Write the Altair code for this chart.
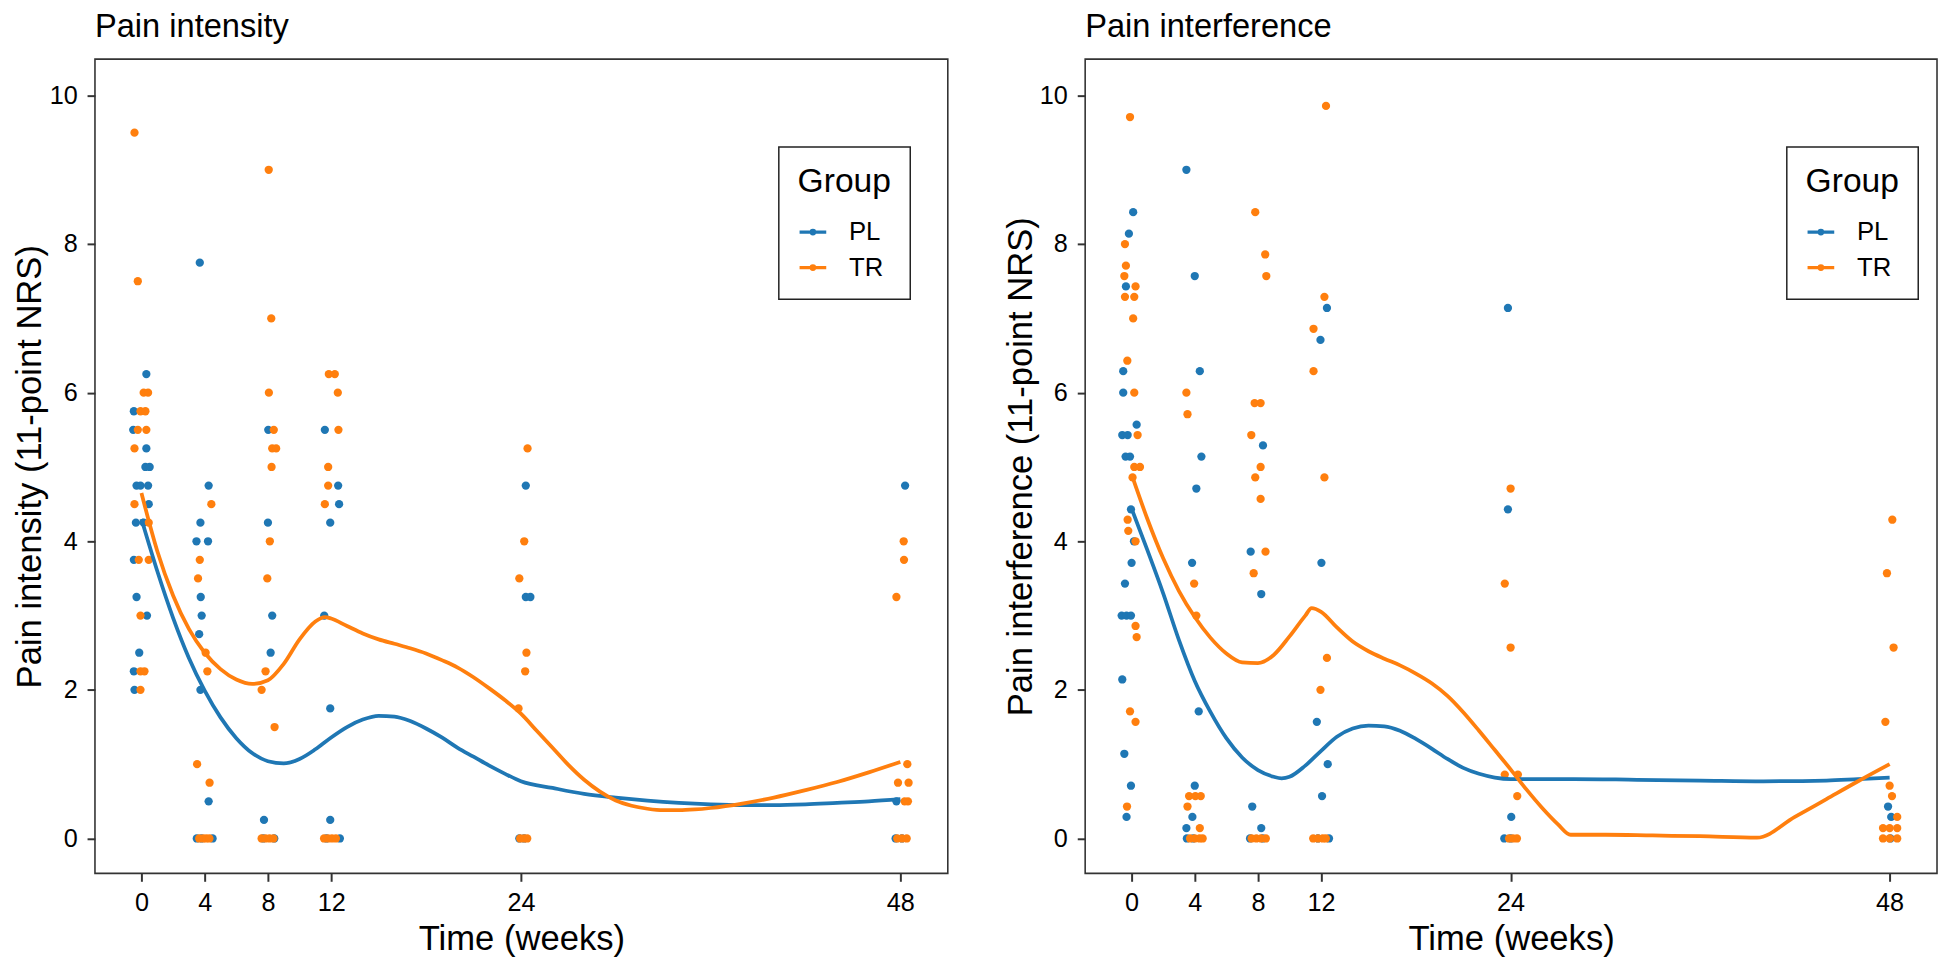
import altair as alt
import pandas as pd

# ---------------- data ----------------
weeks = [0, 4, 8, 12, 24, 48]
y_ticks = [0, 2, 4, 6, 8, 10]
groups = ["PL", "TR"]
group_colors = ["#1f77b4", "#ff7f0e"]

# Pain intensity - individual (jittered) observations
int_pl_x = [0.31, -0.48, -0.52, 0.31, 0.25, 0.52, -0.31, -0.06, 0.42, 0.46, -0.35, 0.14, -0.48, -0.31, 0.35, -0.14, -0.48, -0.44,
            3.69, 4.25, 3.73, 3.48, 4.21, 3.75, 3.81, 3.65, 3.73, 4.25, 3.5, 3.8, 4.5,
            8.02, 8.0, 8.27, 8.17, 7.75, 7.7, 8.4,
            11.6, 12.44, 12.5, 11.94, 11.56, 11.94, 11.94, 12.55, 11.7,
            24.31, 24.31, 24.6, 23.9, 24.2,
            48.3, 47.75, 47.7, 48.1]
int_pl_y = [6.25, 5.75, 5.5, 5.25, 5.0, 5.0, 4.75, 4.75, 4.75, 4.5, 4.25, 4.25, 3.75, 3.25, 3.0, 2.5, 2.25, 2.0,
            7.75, 4.75, 4.25, 4.0, 4.0, 3.25, 3.0, 2.75, 2.0, 0.5, 0, 0, 0,
            5.5, 4.25, 3.0, 2.5, 0.25, 0, 0,
            5.5, 4.75, 4.5, 4.25, 3.0, 1.75, 0.25, 0, 0,
            4.75, 3.25, 3.25, 0, 0,
            4.75, 0.5, 0, 0]
int_tr_x = [-0.44, -0.23, 0.14, 0.42, -0.06, 0.25, -0.23, 0.31, -0.44, -0.44, 0.46, -0.17, 0.46, -0.06, -0.06, 0.19, -0.06,
            4.42, 3.69, 3.58, 4.06, 4.17, 3.52, 4.31, 3.65, 3.9, 4.1, 4.3,
            8.05, 8.21, 8.06, 8.37, 8.27, 8.52, 8.23, 8.12, 7.96, 7.85, 7.6, 8.42, 7.6, 7.85, 8.1, 8.35,
            11.85, 12.23, 12.42, 12.46, 11.81, 11.81, 11.6, 11.55, 11.8, 12.05, 12.3,
            24.42, 24.21, 23.9, 24.35, 24.27, 23.85, 23.95, 24.2, 24.4,
            48.21, 48.23, 47.75, 48.44, 47.85, 48.52, 48.48, 48.27, 47.8, 48.1, 48.4]
int_tr_y = [9.5, 7.5, 6.0, 6.0, 5.75, 5.75, 5.5, 5.5, 5.25, 4.5, 4.25, 3.75, 3.75, 3.0, 2.25, 2.25, 2.0,
            4.5, 3.75, 3.5, 2.5, 2.25, 1.0, 0.75, 0, 0, 0, 0,
            9.0, 7.0, 6.0, 5.5, 5.25, 5.25, 5.0, 4.0, 3.5, 2.25, 2.0, 1.5, 0, 0, 0, 0,
            6.25, 6.25, 6.0, 5.5, 5.0, 4.75, 4.5, 0, 0, 0, 0,
            5.25, 4.0, 3.5, 2.5, 2.25, 1.75, 0, 0, 0,
            4.0, 3.75, 3.25, 1.0, 0.75, 0.75, 0.5, 0.5, 0, 0, 0]

# Pain interference - individual (jittered) observations
itf_pl_x = [0.1, -0.17, -0.36, -0.53, -0.53, 0.32, -0.59, -0.25, -0.38, -0.1, -0.04, 0.15, 0.0, -0.42, -0.63, -0.32, -0.04, -0.59, -0.46, -0.04, -0.32,
            3.47, 4.0, 4.32, 4.42, 4.1, 3.83, 4.25, 4.0, 3.85, 3.47, 3.5, 3.9,
            8.32, 7.54, 8.21, 7.64, 8.21, 7.5, 8.3,
            12.37, 11.96, 12.02, 11.73, 12.42, 12.06, 12.5, 11.8,
            23.83, 23.83, 24.04, 23.6, 24.0,
            47.9, 48.1, 48.05]
itf_pl_y = [8.43, 8.14, 7.43, 6.29, 6.0, 5.57, 5.43, 5.43, 5.14, 5.14, 4.43, 4.0, 3.71, 3.43, 3.0, 3.0, 3.0, 2.14, 1.14, 0.71, 0.29,
            9.0, 7.57, 6.29, 5.14, 4.71, 3.71, 1.71, 0.71, 0.29, 0.14, 0, 0,
            5.29, 3.86, 3.29, 0.43, 0.14, 0, 0,
            7.14, 6.71, 3.71, 1.57, 1.0, 0.57, 0, 0,
            7.14, 4.43, 0.29, 0, 0,
            0.43, 0.29, 0]
itf_tr_x = [-0.1, -0.42, -0.36, -0.46, 0.25, -0.42, 0.17, 0.1, -0.27, 0.17, 0.38, 0.17, 0.53, 0.06, -0.25, -0.21, 0.25, 0.25, 0.32, -0.1, 0.25, -0.29,
            3.47, 3.54, 3.96, 4.1, 3.64, 4.04, 4.38, 3.54, 4.32, 3.7, 4.0, 4.3, 4.5,
            7.83, 8.46, 8.53, 7.79, 8.17, 7.58, 8.17, 7.83, 8.17, 8.48, 7.73, 7.6, 7.9, 8.2, 8.5,
            12.31, 12.21, 11.52, 11.52, 12.21, 12.37, 11.96, 11.5, 11.8, 12.1, 12.3,
            24.0, 23.63, 24.0, 23.63, 24.46, 24.42, 23.9, 24.15, 24.4,
            48.17, 47.83, 48.25, 47.73, 48.0, 48.15, 48.48, 47.58, 48.0, 48.48, 47.58, 48.0, 48.48]
itf_tr_y = [9.71, 8.0, 7.71, 7.57, 7.43, 7.29, 7.29, 7.0, 6.43, 6.0, 5.43, 5.0, 5.0, 4.86, 4.29, 4.14, 4.0, 2.86, 2.71, 1.71, 1.57, 0.43,
            6.0, 5.71, 3.43, 3.0, 0.57, 0.57, 0.57, 0.43, 0.14, 0, 0, 0, 0,
            8.43, 7.86, 7.57, 5.86, 5.86, 5.43, 5.0, 4.86, 4.57, 3.86, 3.57, 0, 0, 0, 0,
            9.86, 7.29, 6.86, 6.29, 4.86, 2.43, 2.0, 0, 0, 0, 0,
            4.71, 3.43, 2.57, 0.86, 0.86, 0.57, 0, 0, 0,
            4.29, 3.57, 2.57, 1.57, 0.71, 0.57, 0.29, 0.14, 0.14, 0.14, 0, 0, 0]

# Smoothed curves
int_pl_cx = [0, 1, 2, 3, 4, 5, 6, 7, 8, 9, 10, 11, 12, 13, 14, 15, 16, 17, 18, 19, 20, 21, 22, 23, 24,
             26, 28, 30, 32, 34, 36, 38, 40, 42, 44, 46, 48]
int_pl_cy = [4.3, 3.6, 2.97, 2.43, 1.99, 1.63, 1.35, 1.15, 1.04, 1.01, 1.07, 1.2, 1.36, 1.5, 1.6, 1.65, 1.64, 1.58, 1.48, 1.36, 1.22, 1.1, 0.98, 0.87, 0.77,
             0.68, 0.6, 0.55, 0.51, 0.48, 0.46, 0.45, 0.45, 0.46, 0.48, 0.5, 0.53]
int_tr_cx = [0, 1, 2, 3, 4, 5, 6, 7, 8, 9, 10, 11, 11.6, 12, 13, 14, 15, 16, 17, 18, 19, 20, 21, 22, 23, 24,
             25, 26, 27, 28, 29, 30, 31, 32, 33, 34, 35, 36, 38, 40, 42, 44, 46, 48]
int_tr_cy = [4.65, 3.87, 3.27, 2.82, 2.5, 2.28, 2.14, 2.08, 2.13, 2.35, 2.68, 2.92, 2.98, 2.96, 2.86, 2.76, 2.68, 2.62, 2.56, 2.49, 2.4, 2.3, 2.17, 2.02, 1.86, 1.68,
             1.45, 1.22, 0.99, 0.79, 0.63, 0.51, 0.44, 0.4, 0.38, 0.38, 0.39, 0.41, 0.47, 0.55, 0.65, 0.76, 0.89, 1.03]
itf_pl_cx = [0, 1, 2, 3, 4, 5, 6, 7, 8, 9, 9.5, 10, 11, 12, 13, 14, 15, 16, 17, 18, 19, 20, 21, 22, 23, 24,
             28, 32, 36, 40, 44, 46, 48]
itf_pl_cy = [4.44, 3.88, 3.3, 2.67, 2.12, 1.7, 1.35, 1.09, 0.92, 0.83, 0.81, 0.83, 0.98, 1.18, 1.37, 1.48, 1.52, 1.51, 1.45, 1.34, 1.21, 1.07, 0.95, 0.87, 0.82, 0.8,
             0.8, 0.79, 0.78, 0.77, 0.78, 0.8, 0.82]
itf_tr_cx = [0, 1, 2, 3, 4, 5, 6, 7, 8, 9, 10, 11, 11.4, 12, 13, 14, 15, 16, 17, 18, 19, 20, 21, 22, 23, 24,
             25, 26, 27, 27.8, 30, 33, 36, 39.6, 42, 44, 46, 48]
itf_tr_cy = [4.9, 4.3, 3.77, 3.33, 2.98, 2.7, 2.49, 2.37, 2.36, 2.47, 2.72, 3.0, 3.1, 3.05, 2.84, 2.65, 2.52, 2.42, 2.33, 2.22, 2.09, 1.92, 1.7, 1.45, 1.19, 0.93,
             0.66, 0.41, 0.19, 0.05, 0.05, 0.04, 0.03, 0.01, 0.29, 0.53, 0.77, 1.0]


def points_df(pl_x, pl_y, tr_x, tr_y):
    return pd.DataFrame({
        "x": pl_x + tr_x,
        "y": pl_y + tr_y,
        "group": ["PL"] * len(pl_x) + ["TR"] * len(tr_x),
    })


def curve_df(pl_x, pl_y, tr_x, tr_y):
    return pd.DataFrame({
        "x": pl_x + tr_x,
        "y": pl_y + tr_y,
        "group": ["PL"] * len(pl_x) + ["TR"] * len(tr_x),
    })


FONT = "Liberation Sans"
LEGEND_SYMBOL = "M-1,0L1,0M0.13,0A0.13,0.13,0,1,1,-0.13,0A0.13,0.13,0,1,1,0.13,0"
color_scale = alt.Scale(domain=groups, range=group_colors)
x_scale = alt.Scale(domain=[-2.94, 51.0], nice=False, zero=False)
y_scale = alt.Scale(domain=[-0.47, 10.49], nice=False, zero=False)

PH = 824


def make_legend(lx, ly):
    return alt.Legend(
        title="Group", orient="none", legendX=lx, legendY=ly,
        titleFontSize=34, titleFontWeight="normal", titleColor="black", titleFont=FONT,
        labelFontSize=26, labelColor="black", labelFont=FONT,
        padding=19, strokeColor="#222222", fillColor="white",
        symbolType=LEGEND_SYMBOL, symbolSize=729, symbolStrokeWidth=3.3,
        labelOffset=21, titlePadding=17.5, rowPadding=7)


def panel(pts, crv, title, ytitle, pw, lx, ly):
    x_enc = alt.X("x:Q", scale=x_scale,
                  axis=alt.Axis(values=weeks, title="Time (weeks)", format="d"))
    y_enc = alt.Y("y:Q", scale=y_scale,
                  axis=alt.Axis(values=y_ticks, title=ytitle, format="d"))
    dots = alt.Chart(pts).mark_circle(size=70, opacity=1).encode(
        x=x_enc, y=y_enc,
        color=alt.Color("group:N", scale=color_scale, legend=make_legend(lx, ly)),
    )
    lines = alt.Chart(crv).mark_line(strokeWidth=3.8, interpolate="monotone").encode(
        x=x_enc, y=y_enc,
        color=alt.Color("group:N", scale=color_scale, legend=make_legend(lx, ly)),
    )
    return alt.layer(dots, lines).properties(
        width=pw, height=PH,
        title=alt.TitleParams(title, anchor="start", frame="group", fontSize=33,
                              fontWeight="normal", font=FONT, color="black", offset=15),
    )


left = panel(points_df(int_pl_x, int_pl_y, int_tr_x, int_tr_y),
             curve_df(int_pl_cx, int_pl_cy, int_tr_cx, int_tr_cy),
             "Pain intensity", "Pain intensity (11-point NRS)", 863, 692, 89)
right = panel(points_df(itf_pl_x, itf_pl_y, itf_tr_x, itf_tr_y),
              curve_df(itf_pl_cx, itf_pl_cy, itf_tr_cx, itf_tr_cy),
              "Pain interference", "Pain interference (11-point NRS)", 862, 710, 89)

chart = alt.hconcat(left, right, spacing=54).resolve_legend(color="independent").properties(
    padding={"left": 4, "top": -3, "right": 0, "bottom": 0}
).configure(font=FONT).configure_view(
    stroke="#333333", strokeWidth=1.6
).configure_axis(
    grid=False, domain=False, tickColor="#333333", tickWidth=2, tickSize=8,
    labelFontSize=25.5, labelColor="black", labelFont=FONT, labelPadding=10,
    titleFontSize=35, titleFontWeight="normal", titleColor="black", titleFont=FONT,
).configure_axisX(titlePadding=6).configure_axisY(titlePadding=1.3).configure_legend(strokeWidth=1.5)

chart.save("out.html", embed_options={"renderer": "svg", "actions": False})
